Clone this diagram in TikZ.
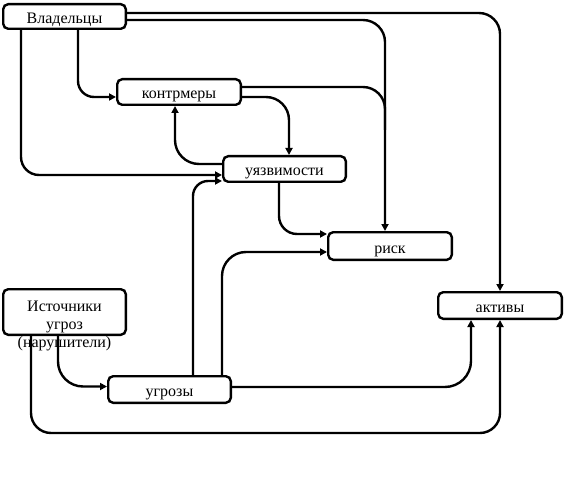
\documentclass[tikz,border=0pt]{standalone}
\usepackage{fontspec}
\setmainfont{Liberation Serif}
\usetikzlibrary{arrows.meta,calc}
\begin{document}
\begin{tikzpicture}[x=1pt,y=-1pt,
  box/.style={draw,line width=2.4pt,rounded corners=5pt,inner sep=0pt,minimum width=122.6pt,
    text height=14pt,text depth=0pt,font=\fontsize{16}{18}\selectfont},
  lbl/.style={inner sep=0pt,align=center,font=\fontsize{16}{18}\selectfont},
  conn/.style={line width=2.4pt,rounded corners=22pt,-{Triangle[length=7pt,width=7pt]}},
  link/.style={line width=2.4pt,rounded corners=22pt}]
\useasboundingbox (0,0) rectangle (564,486);
% boxes
\node[box,minimum height=24.6pt] (vlad) at (64.5,16.5) {Владельцы};
\node[box,minimum height=25.6pt,minimum width=123.6pt] (kontr) at (179,92) {контрмеры};
\node[box,minimum height=25.6pt] (uyaz) at (284.5,169) {уязвимости};
\node[box,minimum height=27.6pt,minimum width=123.6pt] (risk) at (390,246) {риск};
\node[box,minimum height=26.6pt,minimum width=123.6pt] (aktiv) at (500,305.5) {активы};
\node[box,minimum height=45.6pt,text height=0pt] (ist) at (64.5,312) {};
\node[lbl] (istl) at (64.5,325.5) {Источники\\угроз\\(нарушители)};
\node[box,minimum height=26.6pt] (ugroz) at (169.5,389.5) {угрозы};
\coordinate (m1) at (385,130);
\coordinate (c1) at (300,433);
% connectors
\draw[conn,rounded corners=21pt] ([yshift=3.5pt]vlad.east) -| (aktiv.north);
\draw[conn] ([yshift=-3.5pt]vlad.east) -| ([xshift=-5pt]risk.north);
\draw[link] ([yshift=5pt]kontr.east) -| (m1);
\draw[conn,rounded corners=23pt] ([yshift=-5pt]kontr.east) -| ([xshift=4.5pt]uyaz.north);
\draw[conn,rounded corners=18pt] ([xshift=-43.5pt]vlad.south) |- ([yshift=-6pt]uyaz.west);
\draw[conn,rounded corners=16pt] ([xshift=13.5pt]vlad.south) |- ([yshift=-5pt]kontr.west);
\draw[conn,rounded corners=24pt] ([yshift=5pt]uyaz.west) -| ([xshift=-4pt]kontr.south);
\draw[conn,rounded corners=18pt] ([xshift=-5.5pt]uyaz.south) |- ([yshift=12pt]risk.west);
\draw[conn,rounded corners=15pt] ([xshift=23.5pt]ugroz.north) |- ([yshift=-12pt]uyaz.west);
\draw[conn,rounded corners=24pt] ([xshift=52.5pt]ugroz.north) |- ([yshift=-6pt]risk.west);
\draw[conn,rounded corners=26pt] ([yshift=2.5pt]ugroz.east) -| ([xshift=-29pt]aktiv.south);
\draw[conn,rounded corners=25pt] ([xshift=-6.5pt]ist.south) |- ([yshift=3pt]ugroz.west);
\draw[conn,rounded corners=20pt] ([xshift=-33.5pt]ist.south) |- (c1) -| (aktiv.south);
\end{tikzpicture}
\end{document}
